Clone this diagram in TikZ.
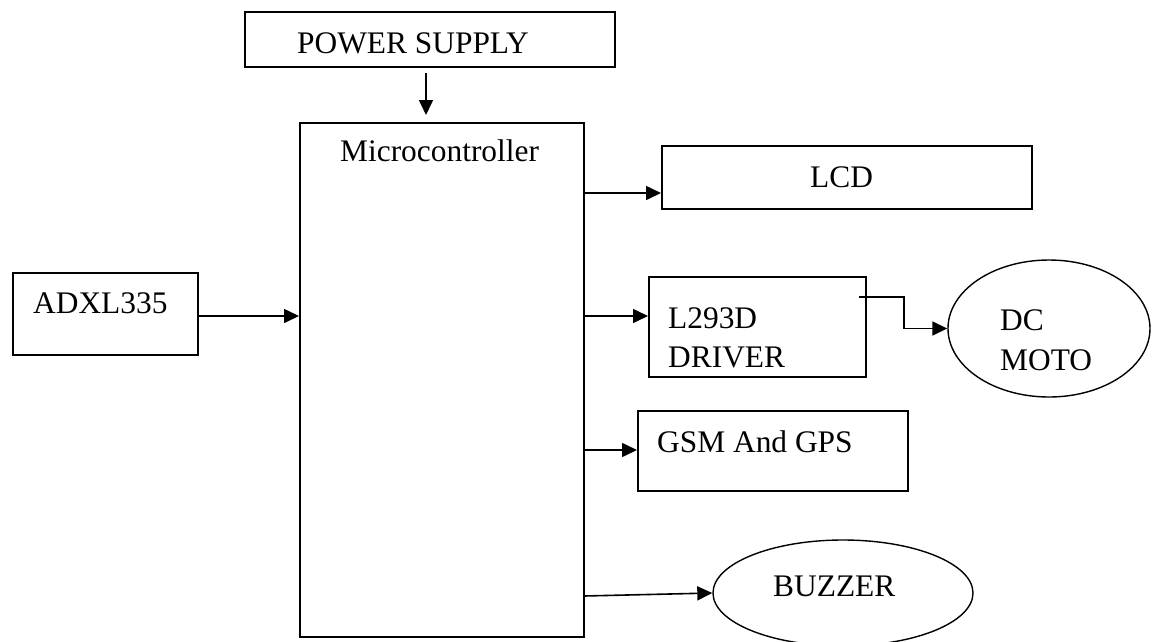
\documentclass[tikz,border=0pt]{standalone}
\usepackage{fontspec}
\setmainfont{Liberation Serif}
\usetikzlibrary{arrows.meta,shapes.geometric}
\begin{document}
\begin{tikzpicture}[x=1pt,y=-1pt,
  blk/.style={draw,line width=1.8pt,inner sep=0pt,anchor=north west},
  oval/.style={draw,ellipse,line width=1.4pt,inner sep=0pt},
  lbl/.style={anchor=base west,inner sep=0pt,font=\fontsize{31.4}{36}\selectfont},
  conn/.style={line width=1.6pt,-{Triangle[length=15pt,width=14pt]}}]
\useasboundingbox (0,0) rectangle (1152,641);
% boxes
\node[blk,minimum width=370pt,minimum height=55pt] (ps) at (244,11) {};
\node[blk,minimum width=284pt,minimum height=514pt] (mc) at (299,122) {};
\node[blk,minimum width=185pt,minimum height=82pt] (adxl) at (12,272) {};
\node[blk,minimum width=370pt,minimum height=63pt] (lcd) at (661,145) {};
\node[blk,minimum width=217pt,minimum height=100pt] (drv) at (648,276) {};
\node[blk,minimum width=270pt,minimum height=80pt] (gsm) at (637,410) {};
\node[oval,minimum width=202pt,minimum height=137pt] (dc) at (1049,328.5) {};
\node[oval,minimum width=260pt,minimum height=106pt] (buz) at (843,593) {};
% labels
\node[lbl] (tps) at (297,53) {POWER SUPPLY};
\node[lbl] (tmc) at (340,161) {Microcontroller};
\node[lbl] (tadxl) at (33,313) {ADXL335};
\node[lbl] (tlcd) at (810,187) {LCD};
\node[lbl] (tdrv1) at (668,328) {L293D};
\node[lbl] (tdrv2) at (668,367) {DRIVER};
\node[lbl] (tdc1) at (1000,330) {DC};
\node[lbl] (tdc2) at (1000,370) {MOTO};
\node[lbl] (tgsm) at (657,452) {GSM And GPS};
\node[lbl] (tbuz) at (773,596) {BUZZER};
% connectors
\coordinate (psout) at (426,73);
\coordinate (mcin) at (426,115);
\draw[conn] (psout) -- (mcin);
\coordinate (ain) at (299,316);
\draw[conn] (adxl.east |- ain) -- (ain);
\coordinate (o1) at (585,193);
\draw[conn] (o1) -- (lcd.west |- o1);
\coordinate (o2) at (583,316);
\draw[conn] (o2) -- (drv.west |- o2);
\coordinate (o3) at (583,450);
\draw[conn] (o3) -- (gsm.west |- o3);
\coordinate (o4) at (584,596);
\draw[conn] (o4) -- (buz.west);
\coordinate (dout) at (859,297);
\draw[conn] (dout) -- ++(45,0) |- (dc.west);
\end{tikzpicture}
\end{document}
